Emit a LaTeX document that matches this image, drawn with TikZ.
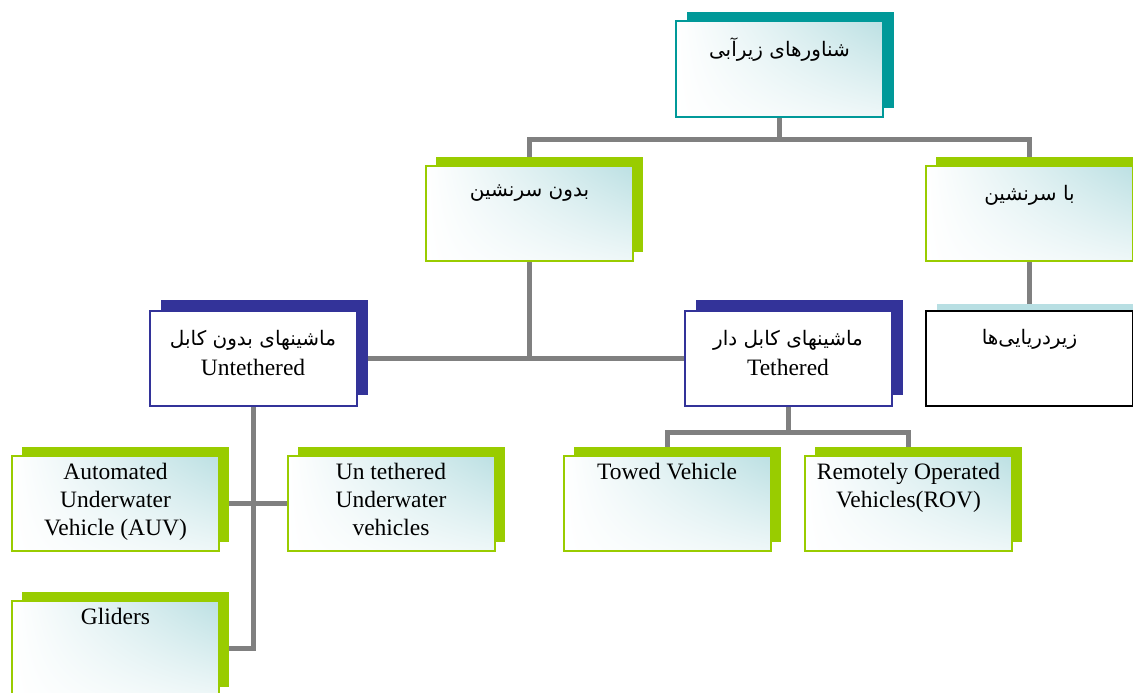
\documentclass[tikz,border=0pt]{standalone}
\usepackage{fontspec}
\setmainfont{Liberation Serif}
\newfontfamily\arabicfont[Script=Arabic]{DejaVu Sans}
\TeXXeTstate=1
\usetikzlibrary{shadows,shadings,backgrounds}
\definecolor{accgreen}{HTML}{99CC00}
\definecolor{accteal}{HTML}{009999}
\definecolor{accnavy}{HTML}{333399}
\definecolor{paleteal}{HTML}{BCE0E3}
\definecolor{palebar}{HTML}{B8DFE3}
\definecolor{linegray}{HTML}{808080}
\newcommand{\fasize}{\arabicfont\fontsize{20}{24}\selectfont}

\begin{document}
\begin{tikzpicture}[x=1pt, y=-1pt,
  box/.style={rectangle, minimum width=207pt, minimum height=95pt, inner sep=0pt,
    line width=2pt, upper right=paleteal, upper left=white, lower left=white,
    lower right=paleteal!25},
  gbox/.style={box, draw=accgreen,
    general shadow={fill=accgreen, shadow xshift=10pt, shadow yshift=9pt}},
  tbox/.style={box, draw=accteal,
    general shadow={fill=accteal, shadow xshift=11pt, shadow yshift=9pt}},
  nbox/.style={rectangle, minimum width=207pt, minimum height=95pt, inner sep=0pt,
    line width=2pt, draw=accnavy, fill=white,
    general shadow={fill=accnavy, shadow xshift=11pt, shadow yshift=11pt}},
  sbox/.style={rectangle, minimum width=207pt, minimum height=95pt, inner sep=0pt,
    line width=2pt, draw=black, fill=white,
    general shadow={fill=palebar, shadow xshift=11pt, shadow yshift=7pt}},
  etxt/.style={anchor=north, align=center, inner sep=0pt, yshift=-8pt,
    font=\fontsize{23.5}{28}\selectfont},
  ftxt/.style={anchor=north, align=center, inner sep=0pt, yshift=-20pt,
    font=\fontsize{23.5}{30}\selectfont},
  conn/.style={draw=linegray, line width=5pt}]
  \useasboundingbox (0,0) rectangle (1133,693);
  \clip (0,0) rectangle (1133,693);

  % top levels
  \node[tbox, label={[ftxt, yshift=3pt]north:{{\fasize\beginR شناورهای زیرآبی\endR}}}] (root) at (779.5,69) {};
  \node[gbox, label={[ftxt]north:{{\fasize\beginR بدون سرنشین\endR}}}] (unmanned) at (529.5,213.5) {};
  \node[gbox, label={[ftxt]north:{{\fasize\beginR با سرنشین\endR}}}] (manned) at (1029.5,213.5) {};

  % vehicles
  \node[nbox, label={[ftxt]north:{{\fasize\beginR ماشینهای بدون کابل\endR}\\Untethered}}] (untethered) at (253,358.5) {};
  \node[nbox, label={[ftxt]north:{{\fasize\beginR ماشینهای کابل دار\endR}\\Tethered}}] (tethered) at (788,358.5) {};
  \node[sbox, label={[ftxt]north:{{\fasize\beginR زیردریایی‌ها\endR}}}] (subs) at (1029.5,358) {};

  % leaves
  \node[gbox, label={[etxt]north:{Automated\\Underwater\\Vehicle (AUV)}}] (auv) at (115.5,503.5) {};
  \node[gbox, label={[etxt]north:{Un tethered\\Underwater\\vehicles}}] (utuv) at (391,503.5) {};
  \node[gbox, label={[etxt]north:{Towed Vehicle}}] (towed) at (667,503.5) {};
  \node[gbox, label={[etxt]north:{Remotely Operated\\Vehicles(ROV)}}] (rov) at (908.5,503.5) {};
  \node[gbox, label={[etxt]north:{Gliders}}] (gliders) at (115.5,648.5) {};

  \coordinate (rootbar) at (779.5,139);
  \coordinate (tethbar) at (788,432);

  \begin{scope}[on background layer]
    \draw[conn] (root) -- (rootbar) -| (unmanned);
    \draw[conn] (rootbar) -| (manned);
    \draw[conn] (manned) -- (subs);
    \draw[conn] (unmanned) -- (unmanned |- untethered);
    \draw[conn] (untethered) -- (tethered);
    \draw[conn] (tethered) -- (tethbar) -| (towed);
    \draw[conn] (tethbar) -| (rov);
    \draw[conn] (untethered) |- (gliders);
    \draw[conn] (auv) -- (utuv);
  \end{scope}
\end{tikzpicture}
\end{document}
